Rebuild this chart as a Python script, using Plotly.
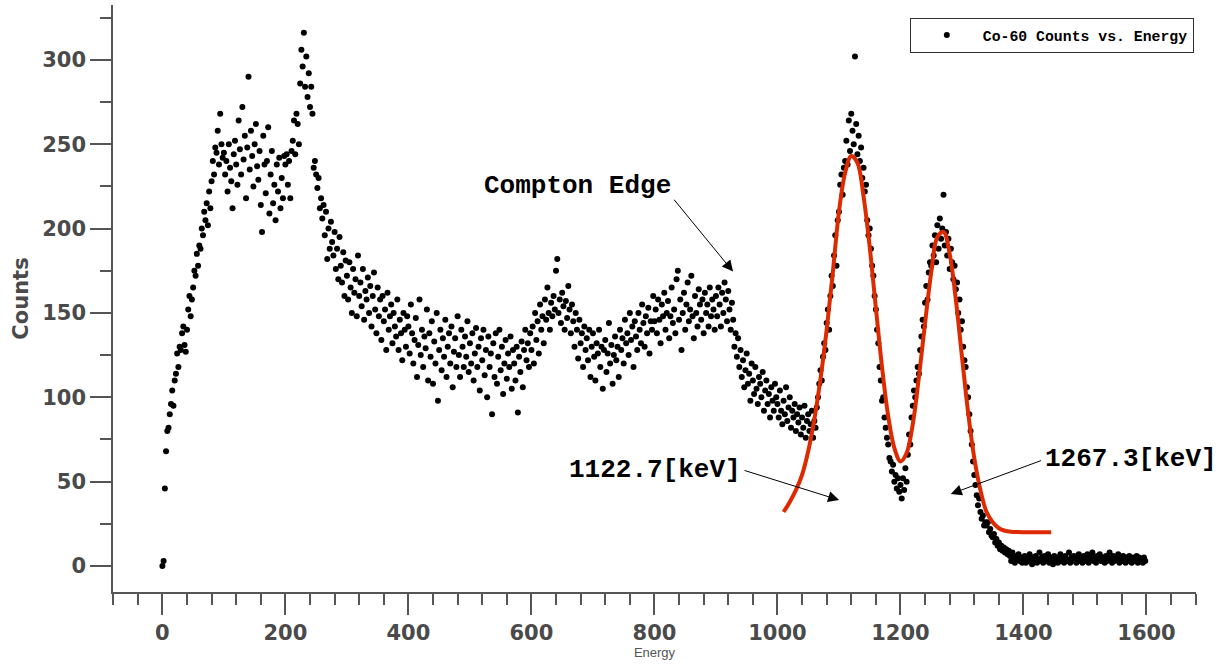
import plotly.graph_objects as go

# ---------------- data ----------------
energy_step_kev = 2.0  # channel width of the spectrum

counts_0000_0100 = [0, 3, 46, 68, 80, 82, 90, 96, 104, 95,
                    110, 114, 126, 118, 130, 128, 138, 142, 131, 127,
                    140, 152, 160, 148, 158, 165, 175, 172, 185, 178,
                    190, 188, 200, 196, 210, 205, 215, 202, 222, 212,
                    228, 240, 232, 248, 245, 258, 238, 268, 250, 242]
counts_0100_0200 = [245, 232, 240, 222, 250, 236, 228, 212, 244, 252,
                    238, 226, 264, 247, 232, 272, 241, 255, 218, 248,
                    290, 235, 258, 243, 225, 250, 262, 237, 229, 246,
                    214, 198, 255, 238, 221, 240, 260, 209, 232, 246,
                    215, 226, 205, 238, 222, 242, 212, 230, 218, 243]
counts_0200_0300 = [238, 244, 226, 240, 218, 246, 252, 264, 244, 268,
                    262, 250, 286, 306, 296, 316, 284, 302, 278, 292,
                    272, 284, 268, 236, 240, 232, 224, 230, 212, 218,
                    206, 214, 196, 210, 182, 200, 188, 204, 192, 184,
                    198, 176, 188, 170, 195, 178, 168, 186, 160, 181]
counts_0300_0400 = [172, 158, 180, 165, 150, 176, 162, 170, 148, 184,
                    160, 168, 154, 176, 146, 163, 158, 171, 150, 166,
                    142, 160, 174, 152, 138, 165, 148, 158, 134, 160,
                    145, 152, 128, 162, 140, 148, 155, 132, 150, 142,
                    136, 158, 128, 146, 138, 122, 150, 140, 130, 148]
counts_0400_0500 = [142, 126, 155, 138, 120, 134, 147, 112, 131, 158,
                    125, 140, 118, 136, 129, 152, 110, 138, 124, 145,
                    108, 133, 120, 150, 98, 128, 140, 116, 135, 124,
                    146, 112, 130, 138, 120, 142, 106, 127, 135, 118,
                    148, 125, 112, 140, 130, 118, 136, 124, 145, 115]
counts_0500_0600 = [132, 120, 138, 110, 126, 141, 118, 130, 104, 135,
                    122, 140, 113, 128, 100, 136, 118, 126, 90, 132,
                    112, 138, 108, 124, 140, 116, 130, 102, 120, 134,
                    111, 126, 118, 136, 105, 128, 120, 110, 130, 91,
                    124, 115, 133, 106, 128, 140, 122, 132, 118, 138]
counts_0600_0700 = [128, 142, 120, 150, 134, 145, 126, 155, 140, 148,
                    132, 158, 146, 165, 150, 140, 156, 148, 160, 152,
                    175, 182, 150, 158, 144, 162, 154, 140, 157, 147,
                    166, 152, 138, 155, 145, 130, 150, 140, 123, 146,
                    132, 138, 118, 142, 128, 135, 122, 140, 112, 130]
counts_0700_0800 = [138, 124, 110, 132, 126, 140, 118, 130, 105, 128,
                    134, 115, 126, 144, 120, 131, 108, 125, 136, 122,
                    130, 112, 140, 128, 135, 120, 146, 132, 138, 125,
                    150, 134, 142, 118, 145, 136, 128, 150, 140, 132,
                    155, 144, 130, 148, 138, 153, 126, 145, 140, 160]
counts_0800_0900 = [145, 152, 138, 158, 146, 132, 155, 148, 162, 140,
                    150, 157, 135, 148, 165, 144, 152, 138, 170, 175,
                    146, 158, 128, 150, 162, 140, 155, 168, 145, 152,
                    172, 148, 135, 160, 150, 142, 164, 155, 146, 158,
                    138, 162, 150, 155, 142, 165, 148, 158, 152, 140]
counts_0900_1000 = [160, 148, 165, 155, 142, 162, 150, 168, 158, 145,
                    163, 152, 140, 156, 146, 130, 138, 124, 135, 118,
                    128, 112, 122, 106, 116, 126, 108, 114, 98, 120,
                    110, 102, 118, 105, 96, 112, 108, 100, 115, 92,
                    104, 110, 96, 102, 88, 106, 98, 92, 108, 100]
counts_1000_1100 = [96, 88, 104, 92, 84, 98, 90, 106, 86, 94,
                    100, 82, 92, 88, 96, 80, 90, 85, 94, 78,
                    88, 82, 95, 76, 86, 90, 80, 84, 92, 76,
                    86, 82, 94, 100, 108, 116, 110, 124, 132, 128,
                    144, 152, 140, 160, 172, 166, 184, 196, 178, 205]
counts_1100_1200 = [210, 226, 232, 220, 236, 240, 252, 238, 264, 246,
                    268, 258, 250, 302, 262, 244, 255, 240, 248, 230,
                    236, 222, 226, 205, 196, 200, 188, 178, 172, 160,
                    152, 140, 132, 118, 110, 98, 100, 88, 82, 76,
                    72, 64, 62, 56, 60, 50, 54, 46, 52, 44]
counts_1200_1300 = [48, 40, 52, 45, 58, 50, 66, 78, 72, 88,
                    95, 104, 100, 110, 118, 114, 128, 136, 146, 142,
                    156, 166, 158, 174, 180, 178, 190, 184, 196, 180,
                    202, 188, 206, 194, 200, 220, 190, 198, 184, 194,
                    176, 188, 180, 170, 178, 164, 168, 150, 158, 140]
counts_1300_1400 = [145, 130, 122, 118, 106, 100, 90, 80, 72, 62,
                    54, 48, 42, 36, 40, 32, 28, 30, 24, 26,
                    24, 26, 20, 22, 18, 17, 19, 14, 16, 12,
                    14, 10, 12, 9, 11, 8, 10, 7, 9, 6,
                    3, 8, 5, 2, 6, 4, 7, 3, 5, 2]
counts_1400_1500 = [4, 6, 2, 5, 3, 7, 4, 1, 5, 3,
                    6, 2, 4, 8, 3, 5, 2, 6, 4, 3,
                    7, 2, 5, 4, 1, 6, 3, 5, 2, 4,
                    7, 3, 5, 2, 6, 4, 3, 8, 2, 5,
                    4, 6, 3, 2, 5, 7, 3, 4, 2, 6]
counts_1500_1600 = [5, 3, 7, 2, 6, 4, 8, 3, 5, 2,
                    6, 4, 7, 3, 5, 4, 2, 6, 3, 5,
                    8, 4, 2, 6, 3, 5, 4, 7, 2, 5,
                    3, 6, 4, 2, 5, 3, 6, 4, 2, 5,
                    3, 4, 6, 2, 5, 3, 4, 2, 5, 3]

counts = (counts_0000_0100 + counts_0100_0200 + counts_0200_0300 + counts_0300_0400
          + counts_0400_0500 + counts_0500_0600 + counts_0600_0700 + counts_0700_0800
          + counts_0800_0900 + counts_0900_1000 + counts_1000_1100 + counts_1100_1200
          + counts_1200_1300 + counts_1300_1400 + counts_1400_1500 + counts_1500_1600)
energy = [i * energy_step_kev for i in range(len(counts))]

# red double-peak fit curve
fit_energy = [1010, 1020, 1030, 1040, 1050, 1060, 1070, 1080, 1090, 1100,
              1110, 1120, 1130, 1140, 1150, 1160, 1170, 1180, 1190, 1200,
              1210, 1220, 1230, 1240, 1250, 1260, 1270, 1280, 1290, 1300,
              1310, 1320, 1330, 1340, 1350, 1360, 1370, 1380, 1390, 1400,
              1420, 1445]
fit_counts = [32, 38, 45, 54, 68, 87, 111, 140, 174, 210,
              233, 243, 239, 219, 189, 153, 118, 89, 70, 62,
              67, 84, 112, 144, 174, 195, 198, 185, 158, 124,
              91, 64, 45, 32, 26, 22.4, 20.9, 20.3, 20.1, 20,
              20, 20]

x_tick_values = [0, 200, 400, 600, 800, 1000, 1200, 1400, 1600]
x_tick_labels = ["0", "200", "400", "600", "800", "1000", "1200", "1400", "1600"]
y_tick_values = [0, 50, 100, 150, 200, 250, 300]
y_tick_labels = ["0", "50", "100", "150", "200", "250", "300"]

series_name = "Co-60 Counts vs. Energy"
annotation_texts = ["Compton Edge", "1122.7[keV]", "1267.3[keV]"]

# ---------------- figure ----------------
AXIS_COLOR = "#555555"
TICK_FONT = dict(family="DejaVu Sans", size=21, color="#4a4a4a", weight="bold")
MONO = "Liberation Mono, Courier New, monospace"

fig = go.Figure()
fig.add_trace(go.Scatter(
    x=energy, y=counts, mode="markers", name=series_name,
    marker=dict(color="black", size=6, line=dict(width=0)),
))
fig.add_trace(go.Scatter(
    x=fit_energy, y=fit_counts, mode="lines", showlegend=False,
    line=dict(color="#dd2a00", width=4, shape="spline", smoothing=1.0),
    hoverinfo="skip",
))

fig.update_layout(
    width=1224, height=664,
    margin=dict(l=113, r=28, t=5, b=72, autoexpand=False),
    paper_bgcolor="white", plot_bgcolor="white",
    showlegend=True,
    legend=dict(
        x=0.998, y=0.978, xanchor="right", yanchor="top",
        bgcolor="white", bordercolor="#333333", borderwidth=1,
        font=dict(family=MONO, size=14.8, color="black", weight="bold"),
        itemwidth=62, tracegroupgap=0,
    ),
)

fig.update_xaxes(
    range=[-80.3, 1680.5], automargin=False,
    showline=True, linecolor=AXIS_COLOR, linewidth=1.5,
    showgrid=False, zeroline=False,
    tickmode="array", tickvals=x_tick_values, ticktext=x_tick_labels,
    ticks="outside", ticklen=21, tickwidth=1.5, tickcolor=AXIS_COLOR,
    tickfont=TICK_FONT,
    minor=dict(tickmode="linear", tick0=0, dtick=40, ticks="outside",
               ticklen=11, tickwidth=1.5, tickcolor=AXIS_COLOR, showgrid=False),
    title=dict(text="Energy", font=dict(family="Liberation Sans", size=13, color="#555555"),
               standoff=2),
)
fig.update_yaxes(
    range=[-15.4, 332.5], automargin=False,
    showline=True, linecolor=AXIS_COLOR, linewidth=1.5,
    showgrid=False, zeroline=False,
    tickmode="array", tickvals=y_tick_values, ticktext=y_tick_labels,
    ticks="outside", ticklen=21, tickwidth=1.5, tickcolor=AXIS_COLOR,
    tickfont=TICK_FONT,
    minor=dict(tickmode="linear", tick0=0, dtick=25, ticks="outside",
               ticklen=11, tickwidth=1.5, tickcolor=AXIS_COLOR, showgrid=False),
    title=dict(text="Counts", font=dict(family="DejaVu Sans", size=21, color="#4a4a4a",
                                        weight="bold"),
               standoff=8),
)

ann_font = dict(family=MONO, size=26, color="black", weight="bold")
arrow_style = dict(showarrow=True, arrowhead=2, arrowsize=2.2, arrowwidth=1,
                   arrowcolor="black", axref="x", ayref="y", xref="x", yref="y", text="")

# text labels
fig.add_annotation(x=674.5, y=225.3, xref="x", yref="y", text=annotation_texts[0],
                   showarrow=False, font=ann_font)
fig.add_annotation(x=800.8, y=56.9, xref="x", yref="y", text=annotation_texts[1],
                   showarrow=False, font=ann_font)
fig.add_annotation(x=1431.4, y=63.4, xref="x", yref="y", text=annotation_texts[2],
                   showarrow=False, font=ann_font, xanchor="left")
# arrows
fig.add_annotation(x=927.8, y=174.5, ax=830, ay=218, **arrow_style)
fig.add_annotation(x=1100.2, y=39.1, ax=944.1, ay=56.9, **arrow_style)
fig.add_annotation(x=1281.8, y=42.7, ax=1430.9, ay=62.8, **arrow_style)

fig.write_html(
    "out.html",
    config={"displayModeBar": False},
    post_script="document.body.style.margin='0px';document.body.style.padding='0px';",
)
